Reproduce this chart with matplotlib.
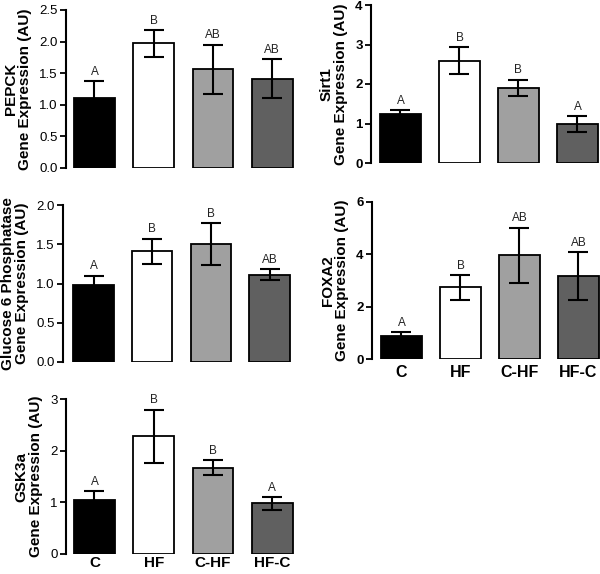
import matplotlib
matplotlib.use("Agg")
import matplotlib.pyplot as plt

plt.rcParams["font.family"] = ["Liberation Sans", "DejaVu Sans"]

groups = ["C", "HF", "C-HF", "HF-C"]
bar_colors = ["#000000", "#ffffff", "#a0a0a0", "#606060"]

pepck_mean = [1.11, 1.97, 1.56, 1.41]
pepck_err = [0.26, 0.21, 0.39, 0.31]
pepck_sig = ["A", "B", "AB", "AB"]

sirt1_mean = [1.25, 2.59, 1.90, 0.98]
sirt1_err = [0.08, 0.34, 0.21, 0.20]
sirt1_sig = ["A", "B", "B", "A"]

g6p_mean = [0.98, 1.41, 1.50, 1.11]
g6p_err = [0.12, 0.16, 0.27, 0.07]
g6p_sig = ["A", "B", "B", "AB"]

foxa2_mean = [0.86, 2.74, 3.96, 3.17]
foxa2_err = [0.17, 0.47, 1.05, 0.92]
foxa2_sig = ["A", "B", "AB", "AB"]

gsk3a_mean = [1.04, 2.28, 1.67, 0.98]
gsk3a_err = [0.17, 0.51, 0.14, 0.12]
gsk3a_sig = ["A", "B", "B", "A"]

W, H = 600, 574


def panel(fig, left_px, top_px, bottom_px, mean, err, sig, ylabel, ymax, yticks,
          ticklabels, bold_ticks=False, show_groups=False, xmin=-0.48,
          group_pad=4, group_size=11.5):
    ax = fig.add_axes([left_px / W, 1 - bottom_px / H, 230 / W, (bottom_px - top_px) / H])
    x = list(range(len(groups)))
    ax.bar(x, mean, width=0.69, color=bar_colors, edgecolor="black", linewidth=1.3, zorder=2)
    ax.errorbar(x, mean, yerr=err, fmt="none", ecolor="black", elinewidth=1.5,
                capsize=7.5, capthick=1.5, zorder=3)
    for xi, m, e, s in zip(x, mean, err, sig):
        ax.annotate(s, (xi, m + e), xytext=(0, 2.5), textcoords="offset points",
                    ha="center", va="bottom", fontsize=8.5, color="#222222")
    ax.set_xlim(xmin, 3.4)
    ax.set_ylim(0, ymax)
    ax.set_yticks(yticks)
    ax.set_yticklabels(ticklabels, fontsize=9.5, fontweight="bold" if bold_ticks else "normal")
    ax.tick_params(axis="y", direction="out", length=4, width=1.3, pad=2)
    for sp in ["top", "right", "bottom"]:
        ax.spines[sp].set_visible(False)
    ax.spines["left"].set_linewidth(1.5)
    if show_groups:
        ax.set_xticks(x)
        ax.set_xticklabels(groups, fontsize=group_size, fontweight="bold")
        ax.tick_params(axis="x", length=0, pad=group_pad)
    else:
        ax.set_xticks([])
    ax.set_ylabel(ylabel, fontsize=11, fontweight="bold", linespacing=1.05, labelpad=5)
    return ax


fig = plt.figure(figsize=(6, 5.74), dpi=100)

panel(fig, 66, 10, 168, pepck_mean, pepck_err, pepck_sig,
      "PEPCK\nGene Expression (AU)", 2.5, [0, 0.5, 1.0, 1.5, 2.0, 2.5],
      ["0.0", "0.5", "1.0", "1.5", "2.0", "2.5"])
panel(fig, 371, 5, 163, sirt1_mean, sirt1_err, sirt1_sig,
      "Sirt1\nGene Expression (AU)", 4, [0, 1, 2, 3, 4],
      ["0", "1", "2", "3", "4"], bold_ticks=True, xmin=-0.5)
panel(fig, 63, 205, 362, g6p_mean, g6p_err, g6p_sig,
      "Glucose 6 Phosphatase\nGene Expression (AU)", 2.0, [0, 0.5, 1.0, 1.5, 2.0],
      ["0.0", "0.5", "1.0", "1.5", "2.0"], xmin=-0.52)
panel(fig, 372, 202, 359, foxa2_mean, foxa2_err, foxa2_sig,
      "FOXA2\nGene Expression (AU)", 6, [0, 2, 4, 6],
      ["0", "2", "4", "6"], bold_ticks=True, show_groups=True, xmin=-0.5)
panel(fig, 66, 399, 554, gsk3a_mean, gsk3a_err, gsk3a_sig,
      "GSK3a\nGene Expression (AU)", 3, [0, 1, 2, 3],
      ["0", "1", "2", "3"], show_groups=True, group_pad=1.5, group_size=11)

fig.savefig("out.png", dpi=100)
